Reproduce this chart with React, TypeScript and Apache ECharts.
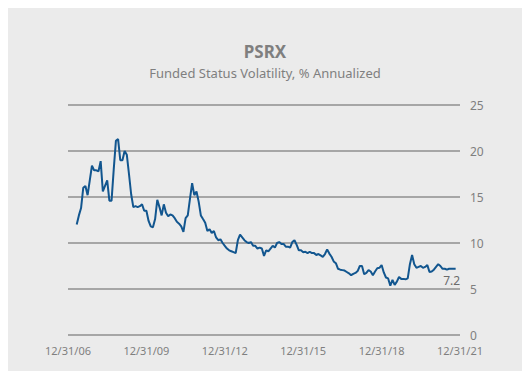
import React, { useEffect, useRef } from "react";
import * as echarts from "echarts";

const TITLE = "PSRX";
const SUBTITLE = "Funded Status Volatility, % Annualized";

// x-axis tick labels (every 3 years, month-end categories)
const TICK_LABELS = ["12/31/06", "12/31/09", "12/31/12", "12/31/15", "12/31/18", "12/31/21"];
const FIRST_YEAR = 2006;
const LAST_YEAR = 2021;

// index (months after 12/31/06) of the first observation
const START_MONTH = 4;

// monthly funded status volatility, % annualized
const volatility = [
  12.0, 13.0, 13.8, 16.0, 16.2, 15.2, 16.8, 18.4, 17.9, 17.9,
  17.8, 18.9, 15.6, 16.2, 16.8, 14.6, 14.6, 18.0, 21.1, 21.3,
  19.0, 19.0, 20.0, 19.6, 17.5, 15.3, 13.9, 14.0, 13.9, 14.0,
  14.2, 13.5, 13.5, 12.4, 11.8, 11.7, 12.6, 14.7, 13.9, 13.0,
  14.2, 13.3, 12.9, 13.1, 13.0, 12.7, 12.3, 12.1, 11.8, 11.2,
  12.7, 13.0, 14.8, 16.5, 15.2, 15.6, 14.5, 13.0, 12.6, 12.2,
  11.3, 11.5, 11.1, 11.3, 10.6, 10.3, 10.4, 10.0, 9.7, 9.4,
  9.2, 9.1, 9.0, 8.9, 10.3, 10.9, 10.6, 10.3, 10.1, 10.0,
  10.1, 9.7, 9.7, 9.4, 9.5, 9.4, 8.6, 9.2, 9.1, 9.4,
  9.7, 9.5, 10.0, 10.1, 9.9, 9.9, 9.6, 9.6, 9.5, 10.1,
  10.3, 9.8, 9.2, 9.2, 9.0, 9.05, 8.9, 9.05, 8.9, 8.9,
  8.7, 8.8, 8.65, 8.5, 8.8, 9.3, 8.85, 8.5, 8.0, 7.8,
  7.2, 7.1, 7.05, 7.0, 6.85, 6.7, 6.5, 6.65, 6.75, 6.95,
  7.5, 7.5, 6.6, 6.75, 7.05, 6.9, 6.5, 6.9, 7.25, 7.3,
  7.6, 6.8, 6.25, 6.15, 5.35, 6.0, 5.45, 5.8, 6.3, 6.1,
  6.1, 6.05, 6.15, 7.7, 8.7, 7.7, 7.3, 7.4, 7.5, 7.3,
  7.4, 7.6, 6.85, 6.9, 7.1, 7.4, 7.7, 7.5, 7.2, 7.2,
  7.1, 7.2, 7.2, 7.2, 7.2,
];

const Y_MIN = 0;
const Y_MAX = 25;
const Y_STEP = 5;

function buildMonths(): string[] {
  const out: string[] = [];
  for (let y = FIRST_YEAR; y <= LAST_YEAR; y++) {
    const startM = y === FIRST_YEAR ? 12 : 1;
    for (let m = startM; m <= 12; m++) {
      const last = new Date(y, m, 0).getDate();
      out.push(`${m}/${last}/${String(y % 100).padStart(2, "0")}`);
    }
  }
  return out;
}

export default function App() {
  const ref = useRef<HTMLDivElement>(null);

  useEffect(() => {
    if (!ref.current) return;
    const chart = echarts.init(ref.current, undefined, { renderer: "svg" });
    const months = buildMonths();
    const data: (number | null)[] = months.map(() => null);
    volatility.forEach((v, i) => {
      const idx = START_MONTH + i;
      if (idx < data.length) data[idx] = v;
    });
    const lastIdx = START_MONTH + volatility.length - 1;
    const lastVal = volatility[volatility.length - 1];
    const gray = "#7f7f7f";
    const font = "Noto Sans";
    chart.setOption({
      animation: false,
      backgroundColor: "#ebebeb",
      title: [
        {
          text: TITLE,
          left: "center",
          top: 38,
          textStyle: { color: gray, fontSize: 17, fontWeight: "bold", fontFamily: font },
        },
        {
          text: SUBTITLE,
          left: "center",
          top: 61,
          textStyle: { color: gray, fontSize: 13, fontWeight: "normal", fontFamily: font },
        },
      ],
      grid: { left: 68, right: 70, top: 105, bottom: 44, containLabel: false },
      xAxis: {
        type: "category",
        data: months,
        boundaryGap: false,
        axisLine: { show: false },
        axisTick: { show: false },
        splitLine: { show: false },
        axisLabel: {
          color: gray,
          fontSize: 11,
          fontFamily: font,
          margin: 10,
          interval: (_i: number, v: string) => TICK_LABELS.includes(v),
          formatter: (v: string) => (TICK_LABELS.includes(v) ? v : ""),
        },
      },
      yAxis: {
        type: "value",
        position: "right",
        min: Y_MIN,
        max: Y_MAX,
        interval: Y_STEP,
        axisLine: { show: false },
        axisTick: { show: false },
        axisLabel: { color: gray, fontSize: 12, fontFamily: font, margin: 10 },
        splitLine: { show: true, lineStyle: { color: "#a6a6a6", width: 2 } },
      },
      series: [
        {
          type: "line",
          data,
          showSymbol: false,
          symbol: "none",
          connectNulls: false,
          lineStyle: { color: "#12568f", width: 2 },
          itemStyle: { color: "#12568f" },
          z: 3,
          markPoint: {
            symbol: "circle",
            symbolSize: 1,
            itemStyle: { color: "rgba(0,0,0,0)" },
            label: {
              show: true,
              position: "bottom",
              distance: 5,
              offset: [-4, 0],
              color: "#6b6b6b",
              fontSize: 12,
              fontFamily: font,
              formatter: (p: any) => Number(p.value).toFixed(1),
            },
            data: [{ coord: [months[lastIdx], lastVal], value: lastVal }],
          },
        },
      ],
    });
    return () => chart.dispose();
  }, []);

  return <div ref={ref} style={{ width: 530, height: 379, margin: -8 }} />;
}
